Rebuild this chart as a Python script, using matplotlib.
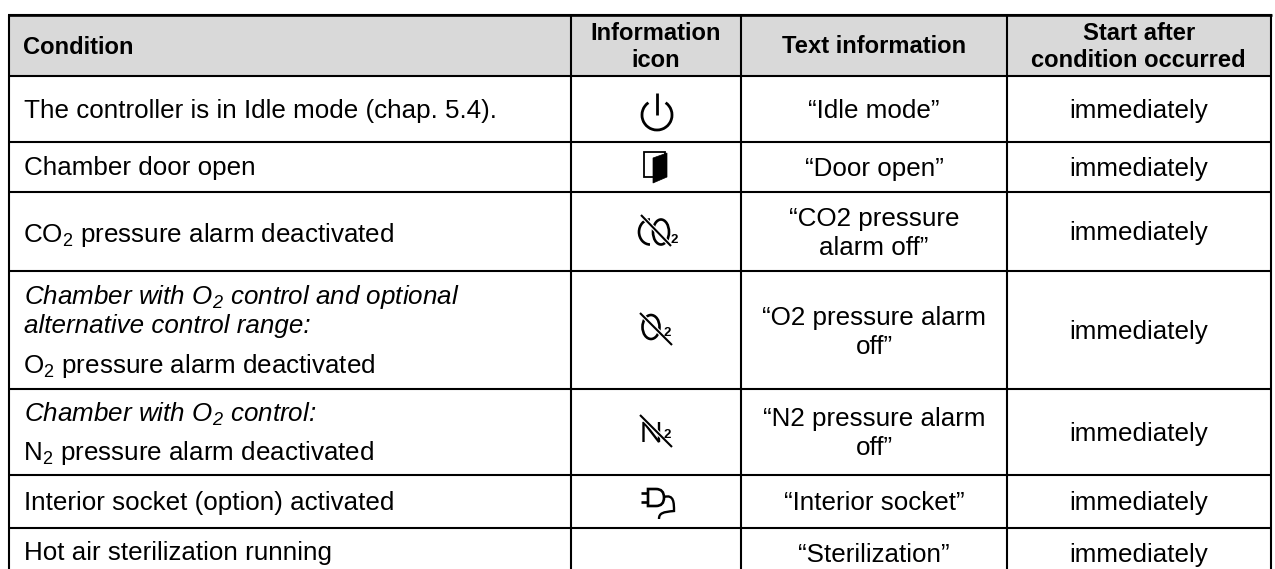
import matplotlib
matplotlib.use("Agg")
import matplotlib.pyplot as plt
from matplotlib.patches import Arc, Ellipse, Polygon, PathPatch, Rectangle
from matplotlib.path import Path

plt.rcParams['font.family'] = ['Liberation Sans', 'DejaVu Sans']
plt.rcParams['mathtext.default'] = 'regular'

# Table content
headers = ["Condition", "Information\nicon", "Text information", "Start after\ncondition occurred"]
conditions = [
    [("The controller is in Idle mode (chap. 5.4).", "normal")],
    [("Chamber door open", "normal")],
    [("CO$_2$ pressure alarm deactivated", "normal")],
    [("Chamber with O$_2$ control and optional", "italic"),
     ("alternative control range:", "italic"),
     ("O$_2$ pressure alarm deactivated", "normal")],
    [("Chamber with O$_2$ control:", "italic"),
     ("N$_2$ pressure alarm deactivated", "normal")],
    [("Interior socket (option) activated", "normal")],
    [("Hot air sterilization running", "normal")],
]
text_info = ["“Idle mode”", "“Door open”", "“CO2 pressure\nalarm off”", "“O2 pressure alarm\noff”",
             "“N2 pressure alarm\noff”", "“Interior socket”", "“Sterilization”"]
start_after = ["immediately"] * 7

# Layout in pixels
W, H = 1275, 569
col_x = [8.5, 571, 741, 1007, 1270.5]
row_y = [14.5, 75.5, 141.5, 191.5, 271, 389, 474.5, 527.7, 578]
cond_baselines = [[118], [175], [242], [304, 333, 373], [422, 460], [510], [560]]
body_size = 18.7
head_size = 17.1
line_px = 29
head_line_px = 27

fig = plt.figure(figsize=(W / 100, H / 100), dpi=100)
ax = fig.add_axes([0, 0, 1, 1])
ax.set_xlim(0, W)
ax.set_ylim(H, 0)
ax.axis("off")

# Header background and grid
ax.add_patch(Rectangle((col_x[0], row_y[0]), col_x[-1] - col_x[0], row_y[1] - row_y[0],
                       facecolor="#d9d9d9", edgecolor="none"))
for y in row_y[:-1]:
    ax.plot([col_x[0] - 1, col_x[-1] + 1], [y, y], color="black", lw=1.5, solid_capstyle="butt")
ax.plot([col_x[0] - 1, col_x[-1] + 1], [row_y[0], row_y[0]], color="black", lw=1.9, solid_capstyle="butt")
for x in col_x:
    ax.plot([x, x], [row_y[0], H], color="black", lw=1.5, solid_capstyle="butt")

# Header text
ax.text(col_x[0] + 15, 54, headers[0], fontsize=head_size, fontweight="bold", va="baseline", ha="left")
for i in range(1, 4):
    parts = headers[i].split("\n")
    for k, part in enumerate(parts):
        y = 53 + (k - (len(parts) - 1) / 2) * head_line_px
        ax.text((col_x[i] + col_x[i + 1]) / 2, y, part, fontsize=head_size, fontweight="bold",
                va="baseline", ha="center")

# Body text
for r, lines in enumerate(conditions):
    for (txt, style), y in zip(lines, cond_baselines[r]):
        # mathtext strings starting upright sit about a pixel further right
        x = col_x[0] + 15 - (0.7 if "$" in txt and style == "normal" else 0)
        ax.text(x, y, txt, fontsize=body_size, style=style, va="baseline", ha="left")
    yc = (row_y[r + 1] + row_y[r + 2]) / 2
    for c, vals in ((2, text_info), (3, start_after)):
        xc = (col_x[c] + col_x[c + 1]) / 2
        parts = vals[r].split("\n")
        for k, part in enumerate(parts):
            y = yc + 9 + (k - (len(parts) - 1) / 2) * line_px
            ax.text(xc, y, part, fontsize=body_size, va="baseline", ha="center")


# Icons
def stroke(xs, ys, lw=1.5, color="black"):
    ax.plot(xs, ys, color=color, lw=lw, solid_capstyle="butt", solid_joinstyle="miter")


def sub_two(x, y):
    ax.text(x, y, "2", fontsize=9.5, fontweight="bold", ha="center", va="center")


# power
ax.add_patch(Arc((657, 115), 30, 30, theta1=-55, theta2=235, lw=2.0, color="black"))
stroke([657, 657], [93, 115], lw=2.0)

# door
stroke([653, 644, 644, 665, 665], [177, 177, 152, 152, 156], lw=1.3)
ax.add_patch(Polygon([(653, 158), (667, 153), (667, 177), (653, 183)], closed=True, facecolor="black",
                     edgecolor="black", lw=0.5))

# CO2
ax.add_patch(Arc((650, 232), 22, 25, theta1=90, theta2=270, lw=1.9, color="black"))
ax.add_patch(Ellipse((661, 232), 16, 25, fill=False, edgecolor="black", lw=1.9))
stroke([641, 671], [215, 246], lw=3.2, color="white")
stroke([641, 671], [215, 246], lw=1.5)
sub_two(674, 240)

# O2
ax.add_patch(Ellipse((651, 327), 17, 24, fill=False, edgecolor="black", lw=1.9))
stroke([640, 672], [313, 345], lw=3.2, color="white")
stroke([640, 672], [313, 345], lw=1.5)
sub_two(667, 333)

# N2
stroke([643.5, 643.5, 659, 659], [442, 422, 442, 422], lw=1.7)
stroke([640, 672], [415, 447], lw=3.2, color="white")
stroke([640, 672], [415, 447], lw=1.5)
sub_two(667, 435)

# socket
stroke([641, 648], [493, 493], lw=1.9)
stroke([641, 648], [502, 502], lw=1.9)
plug = Path([(648, 489), (656, 489), (664, 489), (664, 497.5), (664, 506), (656, 506), (648, 506), (648, 489)],
            [Path.MOVETO, Path.LINETO, Path.CURVE3, Path.CURVE3, Path.CURVE3, Path.CURVE3, Path.LINETO, Path.CLOSEPOLY])
ax.add_patch(PathPatch(plug, fill=False, edgecolor="black", lw=1.9))
cord = Path([(664, 497), (674, 494), (674, 503), (674, 511), (663, 512), (659, 513), (659, 519)],
            [Path.MOVETO, Path.CURVE4, Path.CURVE4, Path.CURVE4, Path.CURVE4, Path.CURVE4, Path.CURVE4])
ax.add_patch(PathPatch(cord, fill=False, edgecolor="black", lw=1.7))

fig.savefig("out.png", dpi=100, facecolor="white")
